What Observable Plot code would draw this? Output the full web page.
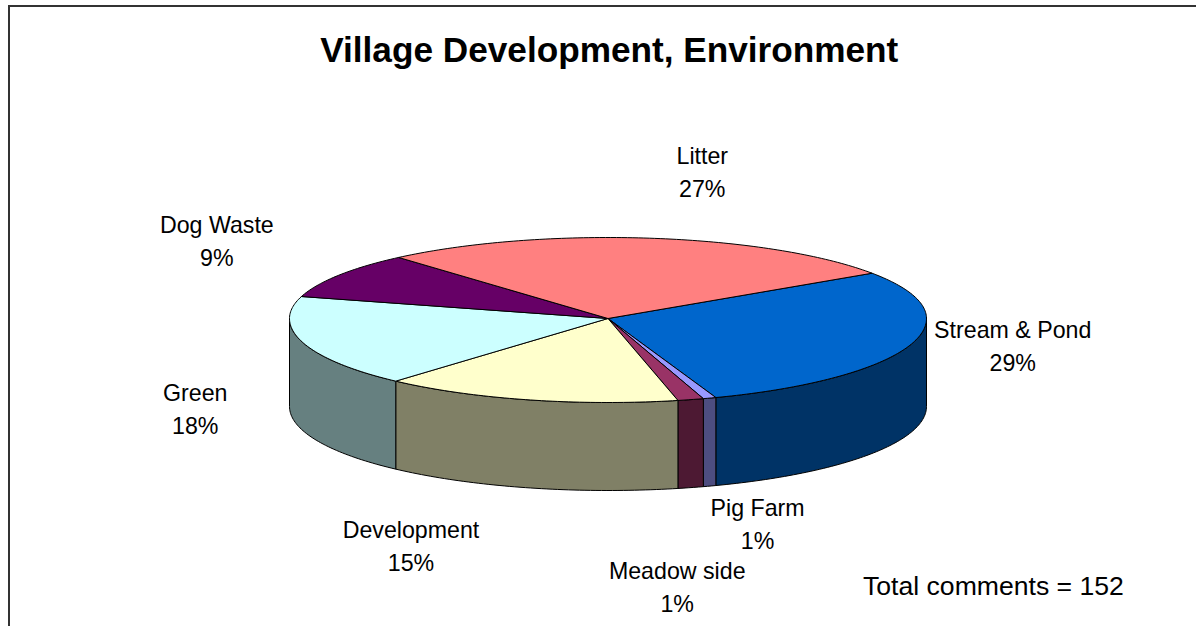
<!DOCTYPE html>
<html>
<head>
<meta charset="utf-8">
<style>
html,body{margin:0;padding:0;background:#fff;overflow:hidden}
svg{display:block}
</style>
<script src="https://cdn.jsdelivr.net/npm/d3@7"></script>
<script src="https://cdn.jsdelivr.net/npm/@observablehq/plot@0.6"></script>
</head>
<body>
<script>
const titleText = "Village Development, Environment";
const noteText = "Total comments = 152";
const categories = ["Stream & Pond","Pig Farm","Meadow side","Development","Green","Dog Waste","Litter"];
const comments = [44,1,2,23,27,14,41];
const topColors = ["#0066CC","#9999FF","#993366","#FFFFCC","#CCFFFF","#660066","#FF8080"];
const sideColors = ["#003366","#4D4D80","#4D1933","#808066","#668080","#330033","#804040"];
const labelNudge = [[102,-1],[48,124],[-13.5,185],[-117,144],[-107,65],[-122,-36],[53,-68]];

const total = d3.sum(comments);
const startAngle = 56 * Math.PI / 180;
const depth = 88 / 84;
const backScale = 81 / 84; // the far half of the disc looks slightly flatter
const slices = d3.pie().sort(null).startAngle(startAngle).endAngle(startAngle + 2 * Math.PI)(comments);
const rim = a => {
  const c = Math.cos(a);
  return {x: Math.sin(a), y: c > 0 ? c * backScale : c};
};

function arcPoints(a0, a1) {
  const n = Math.max(2, Math.ceil((a1 - a0) / (Math.PI / 180)));
  return d3.range(n + 1).map(i => rim(a0 + (a1 - a0) * i / n));
}

const tops = [];
const sides = [];
slices.forEach((s, i) => {
  const arc = arcPoints(s.startAngle, s.endAngle);
  [{x: 0, y: 0}, ...arc, {x: 0, y: 0}].forEach(p => tops.push({...p, id: categories[i], color: topColors[i]}));
  // The wall is visible only where the rim faces the viewer (a half-turn window).
  [[Math.PI / 2, 3 * Math.PI / 2], [Math.PI / 2 + 2 * Math.PI, 3 * Math.PI / 2 + 2 * Math.PI]].forEach(([lo, hi], k) => {
    const a0 = Math.max(s.startAngle, lo), a1 = Math.min(s.endAngle, hi);
    if (a1 <= a0) return;
    const front = arcPoints(a0, a1);
    const wall = [...front, ...front.slice().reverse().map(p => ({x: p.x, y: p.y - depth})), front[0]];
    wall.forEach(p => sides.push({...p, id: categories[i] + k, color: sideColors[i]}));
  });
});

const labels = slices.map((s, i) => {
  const p = rim((s.startAngle + s.endAngle) / 2);
  return {...p, text: categories[i] + "\n" + d3.format(".0%")(comments[i] / total), nudge: labelNudge[i]};
});

const chart = Plot.plot({
  width: 1196,
  height: 626,
  marginLeft: 8.5,
  marginTop: 5.5,
  marginRight: 0,
  marginBottom: 0,
  style: {fontFamily: "'Liberation Sans', Arial, sans-serif", background: "#fff", color: "#000"},
  x: {domain: [-1, 1], range: [289, 926], axis: null},
  y: {domain: [-1, 1], range: [402, 234], axis: null},
  color: {type: "identity"},
  marks: [
    Plot.frame({anchor: "top", stroke: "#333", strokeWidth: 2}),
    Plot.frame({anchor: "left", stroke: "#333", strokeWidth: 2}),
    Plot.line(sides, {x: "x", y: "y", z: "id", fill: "color", stroke: "#000", strokeWidth: 1, curve: "linear"}),
    Plot.line(tops, {x: "x", y: "y", z: "id", fill: "color", stroke: "#000", strokeWidth: 1, curve: "linear"}),
    ...labels.map(d => Plot.text([d], {
      x: "x", y: "y", text: "text", dx: d.nudge[0], dy: d.nudge[1],
      fontSize: 23.2, lineHeight: 1.42, fill: "#000", textAnchor: "middle", lineAnchor: "middle"
    })),
    Plot.text([titleText], {frameAnchor: "top", dx: 6.5, dy: 44.5, text: d => d, fontSize: 35.2, fontWeight: "bold", fill: "#000", lineAnchor: "middle"}),
    Plot.text([noteText], {frameAnchor: "top-left", dx: 854, dy: 580.5, text: d => d, fontSize: 26.6, fill: "#000", textAnchor: "start", lineAnchor: "middle"})
  ]
});
document.body.appendChild(chart);
</script>
</body>
</html>
